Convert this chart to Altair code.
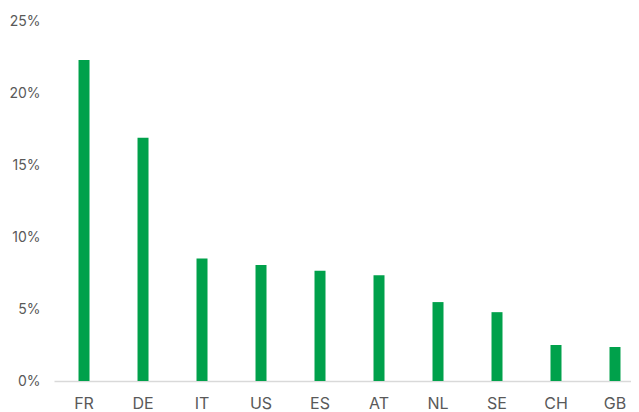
import altair as alt
import pandas as pd

countries = ["FR", "DE", "IT", "US", "ES", "AT", "NL", "SE", "CH", "GB"]
shares = [0.223, 0.169, 0.085, 0.0805, 0.0765, 0.0735, 0.0548, 0.0478, 0.025, 0.0236]

df = pd.DataFrame({"country": countries, "share": shares})

chart = alt.Chart(df).mark_bar(color="#00A14B", size=11).encode(
    x=alt.X("country:N", sort=countries, title=None,
            scale=alt.Scale(paddingInner=0.814, paddingOuter=0.297, align=0.7),
            axis=alt.Axis(labelAngle=0, domainColor="#d9d9d9", domainWidth=1.5,
                          ticks=False, labelPadding=14, labelFontSize=16,
                          labelColor="#595959", labelFont="Inter")),
    y=alt.Y("share:Q", title=None,
            scale=alt.Scale(domain=[0, 0.25]),
            axis=alt.Axis(format=".0%", values=[0, 0.05, 0.1, 0.15, 0.2, 0.25],
                          domain=False, ticks=False, grid=False, labelPadding=14,
                          labelFontSize=14, labelColor="#595959", labelFont="Inter")),
).properties(
    width=577, height=360,
    autosize=alt.AutoSizeParams(type="none"),
    padding={"left": 46, "top": 13, "right": 0, "bottom": 40},
).configure_view(stroke=None)

chart.save("out.html", embed_options={"renderer": "svg", "actions": False})
